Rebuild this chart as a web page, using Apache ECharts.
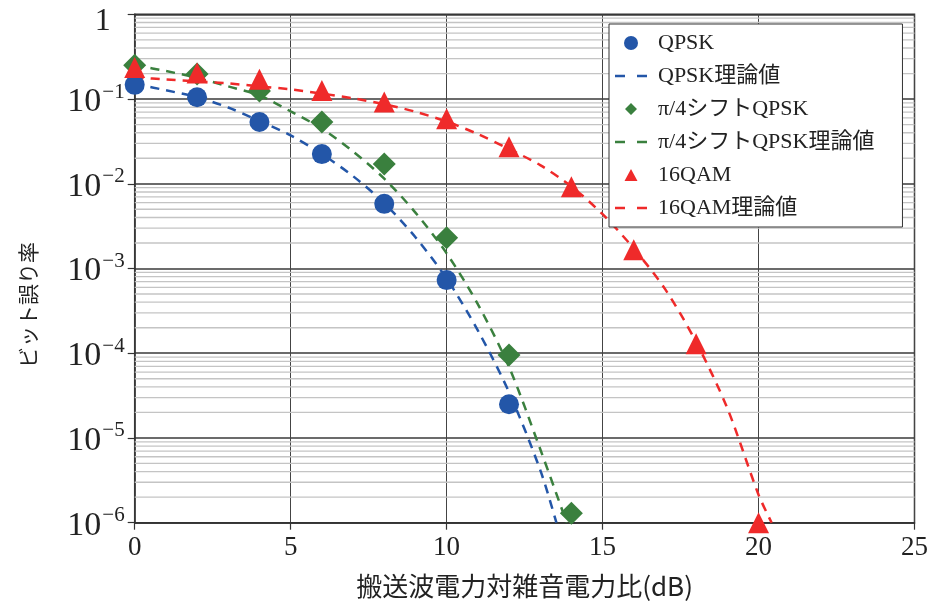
<!DOCTYPE html>
<html><head><meta charset="utf-8">
<script src="https://cdn.jsdelivr.net/npm/echarts@6/dist/echarts.min.js"></script>
<style>html,body{margin:0;padding:0;background:#fff}#c{width:931px;height:606px}</style>
</head><body><div id="c"></div>
<script>
// ---- data ----
const xTicks = [0, 5, 10, 15, 20, 25];
const yDecades = [1, 1e-1, 1e-2, 1e-3, 1e-4, 1e-5, 1e-6];
const minorMantissa = [2, 3, 4, 5, 6, 7, 8, 9];

const qpskX = [0, 2, 4, 6, 8, 10, 12];
const qpskBER = [0.147, 0.105, 0.0535, 0.0224, 5.8e-3, 7.3e-4, 2.5e-5];

const qpskTheoryX = [0, 1, 2, 3, 4, 5, 6, 7, 8, 9, 10, 11, 12, 13, 13.52];
const qpskTheory = [0.151, 0.127, 0.105, 0.0794, 0.055, 0.0372, 0.0224, 0.0123, 5.9e-3, 2.34e-3, 7.6e-4, 1.86e-4, 3.47e-5, 4.2e-6, 1e-6];

const pi4X = [0, 2, 4, 6, 8, 10, 12, 14];
const pi4BER = [0.25, 0.197, 0.124, 0.0535, 0.0171, 2.3e-3, 9.5e-5, 1.29e-6];

const pi4TheoryX = [0, 1, 2, 3, 4, 5, 6, 7, 8, 9, 10, 11, 12, 13, 13.85];
const pi4Theory = [0.251, 0.214, 0.178, 0.141, 0.110, 0.0716, 0.0447, 0.024, 0.0115, 4.57e-3, 1.51e-3, 3.8e-4, 6.9e-5, 7.4e-6, 1e-6];

const qam16X = [0, 2, 4, 6, 8, 10, 12, 14, 16, 18, 20];
const qam16BER = [0.235, 0.203, 0.171, 0.126, 0.092, 0.0586, 0.0274, 9.2e-3, 1.67e-3, 1.29e-4, 1e-6];

const qam16TheoryX = [0, 1, 2, 3, 4, 5, 6, 7, 8, 9, 10, 11, 12, 13, 14, 15, 16, 17, 18, 19, 20, 20.42];
const qam16Theory = [0.18, 0.17, 0.162, 0.153, 0.141, 0.130, 0.116, 0.102, 0.087, 0.0708, 0.0543, 0.0386, 0.0257, 0.0166, 9.3e-3, 4.37e-3, 1.72e-3, 5.75e-4, 1.35e-4, 2.24e-5, 2.14e-6, 1e-6];

const names = ['QPSK', 'QPSK理論値', 'π/4シフトQPSK', 'π/4シフトQPSK理論値', '16QAM', '16QAM理論値'];
const xName = '搬送波電力対雑音電力比(dB)';
const yName = 'ビット誤り率';

// ---- build ----
const zip = (xs, ys) => xs.map((x, i) => [x, ys[i]]);
const X_MIN = xTicks[0], X_MAX = xTicks[xTicks.length - 1];
const minorValues = [];
yDecades.slice(1).forEach(d => minorMantissa.forEach(m => minorValues.push(m * d)));

const BLUE = '#2356a8', GREEN = '#3a803e', RED = '#ef2a2a';
const SERIF = "'Liberation Serif','Noto Sans CJK JP',serif";
const CJK = "'Noto Sans CJK JP','Noto Sans',sans-serif";
const dash = [9, 7];

// legend icons (44x14 box, tiny corner marks fix the box extent)
const BOX = 'M0,0h0.01v0.01h-0.01z M44,14h-0.01v-0.01h0.01z ';
const ICON_DASH = 'path://' + BOX + 'M6,5.75h10v2.5h-10z M28,5.75h10v2.5h-10z';
const ICON_DIAMOND = 'path://' + BOX + 'M22,1L28,7L22,13L16,7Z';
const ICON_TRIANGLE = 'path://' + BOX + 'M22,1L28.5,13L15.5,13Z';
const legendIcons = ['circle', ICON_DASH, ICON_DIAMOND, ICON_DASH, ICON_TRIANGLE, ICON_DASH];

const minorSeries = minorValues.map(v => ({
  type: 'line', data: [[X_MIN, v], [X_MAX, v]], silent: true, symbol: 'none', z: 1,
  lineStyle: { color: '#c4c4c4', width: 1.3 }, legendHoverLink: false
}));

const chart = echarts.init(document.getElementById('c'), null, { renderer: 'canvas' });
chart.setOption({
  animation: false,
  backgroundColor: '#fff',
  grid: { left: 134.7, right: 11, top: 14.3, bottom: 83.3, show: true, borderColor: '#333', borderWidth: 1.5 },
  xAxis: {
    type: 'value', min: X_MIN, max: X_MAX, interval: 5,
    axisLine: { lineStyle: { color: '#333', width: 1.5 } },
    axisTick: { show: true, length: 7, lineStyle: { color: '#333', width: 1.2 } },
    splitLine: { show: true, lineStyle: { color: '#444', width: 1 } },
    axisLabel: { color: '#222', fontSize: 27, fontFamily: SERIF, margin: 12 },
    name: xName, nameLocation: 'middle', nameGap: 50,
    nameTextStyle: { color: '#222', fontSize: 26, fontFamily: CJK }
  },
  yAxis: {
    type: 'log', logBase: 10, min: 1e-6, max: 1, splitNumber: 6,
    axisLine: { show: true, lineStyle: { color: '#333', width: 1.5 } },
    axisTick: { show: true, length: 7, lineStyle: { color: '#333', width: 1.2 } },
    splitLine: { show: true, lineStyle: { color: '#3a3a3a', width: 1.5 } },
    axisLabel: {
      margin: 10,
      formatter: v => {
        const e = Math.round(Math.log10(v));
        return e === 0 ? '{one|1}' : '{a|10}{s|−' + (-e) + '}';
      },
      rich: {
        one: { fontSize: 32, fontFamily: SERIF, color: '#222', padding: [14, 14, 0, 0] },
        a: { fontSize: 34, fontFamily: SERIF, color: '#222', padding: [6, 0, 0, 0] },
        s: { fontSize: 21, fontFamily: SERIF, color: '#222', padding: [0, 0, 14, 1] }
      }
    }
  },
  legend: {
    orient: 'vertical', left: 609, top: 24,
    data: names.map((n, i) => ({ name: n, icon: legendIcons[i] })),
    backgroundColor: '#fff', borderColor: '#333', borderWidth: 1,
    padding: [8, 28, 8, 0],
    itemWidth: 44, itemHeight: 14, itemGap: 11,
    symbolKeepAspect: true,
    textStyle: { fontSize: 22, fontFamily: SERIF, color: '#222' }
  },
  graphic: [{
    type: 'text', x: 28, y: 305, rotation: Math.PI / 2,
    style: { text: yName, font: '21px ' + CJK, fill: '#222', align: 'center', verticalAlign: 'middle' }
  }],
  series: minorSeries.concat([
    { name: names[0], type: 'scatter', data: zip(qpskX, qpskBER), symbol: 'circle', symbolSize: 20, itemStyle: { color: BLUE, opacity: 1 }, z: 4 },
    { name: names[1], type: 'line', data: zip(qpskTheoryX, qpskTheory), smooth: 0.3, showSymbol: false, symbol: 'none',
      lineStyle: { color: BLUE, width: 2.5, type: dash }, itemStyle: { color: BLUE }, z: 3 },
    { name: names[2], type: 'scatter', data: zip(pi4X, pi4BER), symbol: 'diamond', symbolSize: 23, itemStyle: { color: GREEN, opacity: 1 }, z: 4 },
    { name: names[3], type: 'line', data: zip(pi4TheoryX, pi4Theory), smooth: 0.3, showSymbol: false, symbol: 'none',
      lineStyle: { color: GREEN, width: 2.5, type: dash }, itemStyle: { color: GREEN }, z: 3 },
    { name: names[4], type: 'scatter', data: zip(qam16X, qam16BER), symbol: 'triangle', symbolSize: 21, itemStyle: { color: RED, opacity: 1 }, z: 4 },
    { name: names[5], type: 'line', data: zip(qam16TheoryX, qam16Theory), smooth: 0.3, showSymbol: false, symbol: 'none',
      lineStyle: { color: RED, width: 2.5, type: dash }, itemStyle: { color: RED }, z: 3 }
  ])
});
</script></body></html>
